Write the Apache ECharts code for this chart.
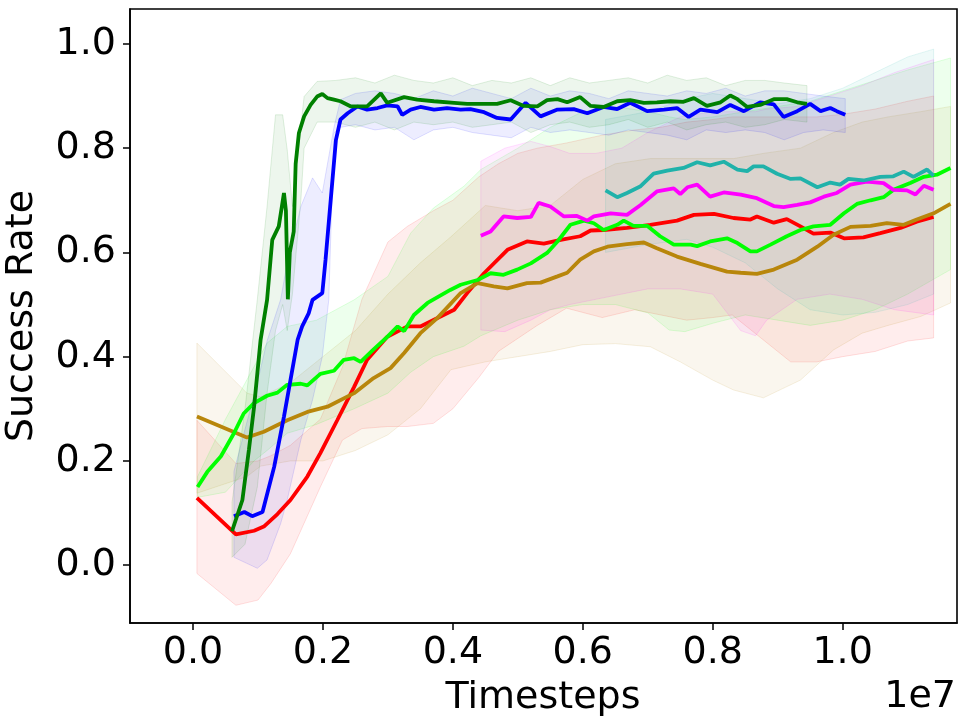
<!DOCTYPE html>
<html>
<head>
<meta charset="utf-8">
<title>Success Rate</title>
<script src="https://cdn.jsdelivr.net/npm/echarts@6.0.0/dist/echarts.min.js"></script>
<style>
  html, body { margin: 0; padding: 0; background: #fff; }
  #chart { width: 970px; height: 727px; }
</style>
</head>
<body>
<div id="chart"></div>
<script>
// x values are timesteps in units of 1e7
var xTicks = [0, 0.2, 0.4, 0.6, 0.8, 1.0];
var yTicks = [0, 0.2, 0.4, 0.6, 0.8, 1.0];

// ---- mean curves ----
var redSteps = [0.006,0.066,0.094,0.109,0.130,0.150,0.176,0.196,0.222,0.248,0.268,0.299,0.330,0.350,0.381,0.402,0.422,0.448,0.484,0.514,0.540,0.566,0.596,0.612,0.632,0.668,0.704,0.745,0.771,0.802,0.832,0.858,0.868,0.894,0.914,0.935,0.955,0.981,1.002,1.032,1.058,1.089,1.114,1.140];
var redMean = [0.129,0.059,0.066,0.074,0.098,0.125,0.170,0.215,0.278,0.342,0.394,0.438,0.458,0.458,0.477,0.490,0.522,0.560,0.605,0.621,0.617,0.624,0.631,0.642,0.643,0.647,0.653,0.661,0.672,0.674,0.666,0.663,0.669,0.657,0.664,0.650,0.636,0.638,0.627,0.629,0.637,0.647,0.659,0.668];

var brownSteps = [0.006,0.083,0.109,0.145,0.176,0.207,0.248,0.278,0.304,0.325,0.350,0.376,0.412,0.438,0.463,0.484,0.514,0.535,0.561,0.576,0.596,0.617,0.638,0.668,0.694,0.714,0.745,0.781,0.822,0.843,0.868,0.894,0.930,0.961,0.986,1.012,1.043,1.068,1.094,1.114,1.140,1.166];
var brownMean = [0.285,0.245,0.256,0.278,0.294,0.304,0.330,0.359,0.378,0.407,0.445,0.474,0.522,0.541,0.535,0.531,0.541,0.542,0.554,0.561,0.586,0.602,0.611,0.616,0.619,0.608,0.592,0.578,0.563,0.561,0.559,0.567,0.586,0.611,0.634,0.649,0.651,0.656,0.653,0.663,0.675,0.693];

var limeSteps = [0.007,0.022,0.043,0.063,0.078,0.094,0.114,0.130,0.145,0.166,0.176,0.196,0.217,0.232,0.248,0.258,0.278,0.299,0.315,0.325,0.340,0.361,0.396,0.412,0.438,0.458,0.478,0.499,0.520,0.545,0.561,0.581,0.602,0.617,0.632,0.653,0.663,0.678,0.699,0.719,0.740,0.766,0.776,0.796,0.822,0.838,0.858,0.868,0.889,0.914,0.935,0.955,0.981,1.002,1.022,1.043,1.063,1.078,1.104,1.125,1.145,1.166];
var limeMean = [0.150,0.179,0.209,0.253,0.291,0.311,0.325,0.331,0.346,0.348,0.345,0.367,0.373,0.394,0.397,0.390,0.414,0.438,0.458,0.449,0.480,0.503,0.528,0.538,0.547,0.560,0.557,0.567,0.579,0.599,0.621,0.653,0.661,0.656,0.643,0.653,0.661,0.651,0.651,0.631,0.615,0.615,0.612,0.621,0.627,0.618,0.602,0.602,0.615,0.631,0.643,0.650,0.653,0.675,0.693,0.700,0.706,0.720,0.733,0.745,0.749,0.762];

var magentaSteps = [0.443,0.458,0.478,0.499,0.520,0.532,0.550,0.571,0.591,0.607,0.617,0.643,0.668,0.689,0.714,0.740,0.750,0.761,0.776,0.796,0.817,0.843,0.868,0.894,0.909,0.930,0.950,0.971,0.991,1.012,1.037,1.063,1.078,1.099,1.112,1.125,1.140];
var magentaMean = [0.632,0.640,0.669,0.666,0.668,0.695,0.688,0.669,0.670,0.661,0.669,0.675,0.672,0.691,0.717,0.723,0.712,0.725,0.730,0.707,0.715,0.711,0.704,0.689,0.687,0.691,0.696,0.707,0.714,0.730,0.736,0.733,0.720,0.719,0.711,0.728,0.720];

var tealSteps = [0.635,0.653,0.668,0.689,0.709,0.730,0.755,0.776,0.796,0.817,0.838,0.853,0.863,0.878,0.899,0.920,0.935,0.961,0.981,0.996,1.009,1.032,1.058,1.078,1.094,1.109,1.130,1.140];
var tealMean = [0.719,0.706,0.714,0.727,0.751,0.757,0.762,0.773,0.767,0.774,0.759,0.756,0.765,0.765,0.751,0.741,0.742,0.725,0.734,0.730,0.741,0.738,0.745,0.746,0.755,0.745,0.759,0.747];

var blueSteps = [0.063,0.079,0.091,0.107,0.125,0.140,0.150,0.161,0.168,0.178,0.184,0.199,0.204,0.212,0.220,0.227,0.238,0.253,0.268,0.284,0.299,0.315,0.322,0.335,0.350,0.371,0.391,0.412,0.427,0.448,0.468,0.489,0.512,0.535,0.561,0.586,0.607,0.632,0.653,0.673,0.699,0.725,0.745,0.763,0.781,0.807,0.827,0.848,0.873,0.894,0.909,0.930,0.950,0.966,0.981,0.991,1.004];
var blueMean = [0.094,0.102,0.094,0.102,0.189,0.285,0.355,0.432,0.458,0.483,0.509,0.522,0.586,0.701,0.816,0.855,0.867,0.880,0.874,0.877,0.882,0.880,0.864,0.874,0.879,0.874,0.877,0.874,0.875,0.869,0.858,0.855,0.887,0.861,0.874,0.875,0.867,0.879,0.875,0.887,0.871,0.874,0.877,0.860,0.874,0.869,0.883,0.871,0.888,0.884,0.860,0.871,0.885,0.871,0.877,0.871,0.864];

var greenSteps = [0.060,0.076,0.086,0.094,0.104,0.114,0.122,0.132,0.140,0.143,0.146,0.149,0.152,0.155,0.158,0.163,0.171,0.181,0.191,0.199,0.207,0.217,0.227,0.243,0.268,0.289,0.299,0.325,0.345,0.371,0.402,0.422,0.448,0.468,0.489,0.509,0.530,0.545,0.561,0.576,0.596,0.612,0.632,0.653,0.673,0.694,0.714,0.735,0.755,0.771,0.791,0.812,0.827,0.838,0.853,0.873,0.894,0.914,0.930,0.945];
var greenMean = [0.065,0.125,0.221,0.304,0.432,0.509,0.624,0.650,0.714,0.680,0.510,0.600,0.620,0.640,0.770,0.829,0.861,0.883,0.899,0.904,0.896,0.893,0.890,0.880,0.880,0.905,0.887,0.898,0.893,0.890,0.887,0.885,0.885,0.885,0.892,0.881,0.880,0.892,0.894,0.888,0.898,0.881,0.879,0.890,0.892,0.887,0.888,0.890,0.889,0.896,0.881,0.888,0.901,0.894,0.879,0.883,0.894,0.894,0.888,0.885];

// ---- shaded spread bands ----
var redBandSteps = [0.006,0.066,0.10,0.12,0.15,0.196,0.23,0.26,0.30,0.33,0.37,0.40,0.44,0.47,0.50,0.53,0.575,0.63,0.68,0.72,0.76,0.80,0.83,0.88,0.92,0.96,1.0,1.05,1.10,1.14];
var redBandHigh = [0.278,0.195,0.20,0.21,0.23,0.28,0.38,0.51,0.62,0.65,0.68,0.70,0.745,0.77,0.79,0.80,0.81,0.825,0.835,0.84,0.85,0.855,0.86,0.86,0.86,0.86,0.865,0.875,0.89,0.90];
var redBandLow = [-0.016,-0.077,-0.067,-0.035,0.022,0.150,0.24,0.262,0.266,0.266,0.272,0.30,0.36,0.41,0.435,0.46,0.493,0.475,0.49,0.48,0.47,0.475,0.48,0.43,0.39,0.39,0.40,0.41,0.43,0.436];

var brownBandSteps = [0.006,0.083,0.104,0.15,0.2,0.25,0.30,0.35,0.397,0.45,0.5,0.55,0.6,0.65,0.704,0.75,0.80,0.832,0.878,0.935,0.986,1.03,1.07,1.12,1.166];
var brownBandHigh = [0.426,0.33,0.323,0.35,0.40,0.45,0.52,0.58,0.63,0.69,0.68,0.69,0.74,0.77,0.78,0.78,0.78,0.78,0.79,0.80,0.83,0.85,0.86,0.87,0.88];
var brownBandLow = [0.138,0.17,0.19,0.20,0.20,0.22,0.25,0.30,0.375,0.39,0.40,0.41,0.423,0.425,0.419,0.39,0.355,0.336,0.321,0.355,0.413,0.445,0.46,0.477,0.503];

var limeBandSteps = [0.007,0.05,0.094,0.114,0.145,0.19,0.248,0.30,0.335,0.37,0.417,0.443,0.50,0.55,0.60,0.65,0.70,0.733,0.757,0.80,0.85,0.90,0.95,1.00,1.05,1.10,1.166];
var limeBandHigh = [0.17,0.28,0.381,0.426,0.458,0.47,0.509,0.554,0.637,0.685,0.727,0.759,0.80,0.84,0.87,0.88,0.87,0.86,0.855,0.86,0.87,0.88,0.89,0.91,0.93,0.95,0.973];
var limeBandLow = [0.13,0.14,0.20,0.22,0.253,0.27,0.30,0.33,0.37,0.40,0.42,0.44,0.47,0.49,0.50,0.50,0.484,0.451,0.448,0.464,0.48,0.47,0.46,0.47,0.49,0.52,0.567];

var magentaBandSteps = [0.443,0.48,0.52,0.55,0.58,0.62,0.66,0.70,0.75,0.80,0.843,0.866,0.883,0.93,0.98,1.03,1.08,1.14];
var magentaBandHigh = [0.775,0.80,0.813,0.803,0.79,0.79,0.80,0.83,0.86,0.87,0.87,0.87,0.875,0.88,0.90,0.92,0.945,0.97];
var magentaBandLow = [0.451,0.448,0.47,0.49,0.50,0.51,0.52,0.53,0.53,0.52,0.45,0.44,0.47,0.51,0.52,0.51,0.49,0.48];

var tealBandSteps = [0.635,0.70,0.76,0.80,0.85,0.90,0.95,1.00,1.05,1.10,1.14];
var tealBandHigh = [0.855,0.87,0.895,0.905,0.895,0.885,0.895,0.915,0.945,0.975,0.99];
var tealBandLow = [0.60,0.615,0.625,0.61,0.58,0.53,0.49,0.48,0.485,0.50,0.52];

var blueBandSteps = [0.063,0.099,0.114,0.135,0.145,0.166,0.184,0.199,0.209,0.217,0.227,0.25,0.28,0.31,0.34,0.37,0.40,0.43,0.46,0.49,0.52,0.55,0.58,0.61,0.64,0.67,0.70,0.73,0.76,0.79,0.82,0.85,0.88,0.91,0.94,0.97,1.004];
var blueBandHigh = [0.18,0.35,0.43,0.51,0.58,0.688,0.743,0.714,0.784,0.84,0.893,0.905,0.91,0.905,0.895,0.91,0.90,0.915,0.905,0.895,0.915,0.90,0.91,0.905,0.895,0.91,0.905,0.90,0.91,0.905,0.915,0.90,0.91,0.91,0.905,0.90,0.895];
var blueBandLow = [0.015,-0.006,0.01,0.08,0.125,0.24,0.317,0.40,0.509,0.829,0.84,0.845,0.835,0.84,0.816,0.835,0.84,0.83,0.825,0.82,0.84,0.83,0.835,0.83,0.825,0.835,0.83,0.825,0.816,0.835,0.83,0.835,0.83,0.816,0.83,0.835,0.83];

var greenBandSteps = [0.060,0.080,0.099,0.114,0.127,0.138,0.145,0.153,0.166,0.171,0.191,0.22,0.25,0.28,0.31,0.34,0.37,0.40,0.43,0.46,0.49,0.52,0.55,0.58,0.61,0.64,0.67,0.70,0.73,0.76,0.79,0.82,0.85,0.88,0.91,0.945];
var greenBandHigh = [0.12,0.30,0.51,0.688,0.864,0.864,0.797,0.688,0.842,0.899,0.928,0.93,0.935,0.925,0.94,0.93,0.925,0.935,0.92,0.93,0.925,0.935,0.92,0.935,0.925,0.93,0.935,0.925,0.94,0.93,0.935,0.92,0.93,0.93,0.925,0.92];
var greenBandLow = [0.015,0.04,0.15,0.33,0.45,0.50,0.45,0.52,0.70,0.80,0.85,0.85,0.84,0.85,0.835,0.85,0.845,0.85,0.84,0.845,0.85,0.83,0.845,0.85,0.84,0.845,0.855,0.84,0.85,0.835,0.845,0.85,0.84,0.845,0.855,0.85];

var runs = [
    { name: 'red', color: [255, 0, 0], steps: redSteps, mean: redMean, bSteps: redBandSteps, lo: redBandLow, hi: redBandHigh },
    { name: 'brown', color: [184, 134, 11], steps: brownSteps, mean: brownMean, bSteps: brownBandSteps, lo: brownBandLow, hi: brownBandHigh },
    { name: 'lime', color: [0, 255, 0], steps: limeSteps, mean: limeMean, bSteps: limeBandSteps, lo: limeBandLow, hi: limeBandHigh },
    { name: 'magenta', color: [255, 0, 255], steps: magentaSteps, mean: magentaMean, bSteps: magentaBandSteps, lo: magentaBandLow, hi: magentaBandHigh },
    { name: 'teal', color: [32, 178, 170], steps: tealSteps, mean: tealMean, bSteps: tealBandSteps, lo: tealBandLow, hi: tealBandHigh },
    { name: 'blue', color: [0, 0, 255], steps: blueSteps, mean: blueMean, bSteps: blueBandSteps, lo: blueBandLow, hi: blueBandHigh },
    { name: 'green', color: [0, 128, 0], steps: greenSteps, mean: greenMean, bSteps: greenBandSteps, lo: greenBandLow, hi: greenBandHigh }
];

function rgba(c, a) {
    return 'rgba(' + c[0] + ',' + c[1] + ',' + c[2] + ',' + a + ')';
}

function zip(xs, ys) {
    var out = [];
    for (var i = 0; i < xs.length; i++) out.push([xs[i], ys[i]]);
    return out;
}

var FONT = 'DejaVu Sans';
var FSIZE = 38;
var series = [];

// bands first (drawn underneath)
runs.forEach(function (run) {
    var pts = [];
    for (var i = 0; i < run.bSteps.length; i++) pts.push([run.bSteps[i], run.lo[i], run.hi[i]]);
    series.push({
        type: 'custom',
        name: run.name + ' band',
        silent: true,
        clip: true,
        z: 1,
        encode: { x: 0, y: [1, 2] },
        data: pts,
        renderItem: function (params, api) {
            if (params.dataIndex !== 0) return null;
            var poly = [];
            for (var i = 0; i < pts.length; i++) poly.push(api.coord([pts[i][0], pts[i][2]]));
            for (var j = pts.length - 1; j >= 0; j--) poly.push(api.coord([pts[j][0], pts[j][1]]));
            return {
                type: 'polygon',
                shape: { points: poly },
                style: { fill: rgba(run.color, 0.07), stroke: rgba(run.color, 0.12), lineWidth: 1 }
            };
        }
    });
});

runs.forEach(function (run) {
    series.push({
        type: 'line',
        name: run.name,
        z: 5,
        data: zip(run.steps, run.mean),
        showSymbol: false,
        symbol: 'none',
        animation: false,
        lineStyle: { color: rgba(run.color, 1), width: 3.8 },
        itemStyle: { color: rgba(run.color, 1) }
    });
});

var chart = echarts.init(document.getElementById('chart'), null, { renderer: 'canvas' });
chart.setOption({
    animation: false,
    backgroundColor: '#fff',
    grid: {
        left: 130, top: 9, width: 827, height: 614,
        show: true, borderColor: '#000', borderWidth: 1.6,
        containLabel: false, outerBoundsMode: 'none'
    },
    xAxis: {
        type: 'value',
        min: -0.097,
        max: 1.176,
        splitLine: { show: false },
        axisLine: { show: true, onZero: false, lineStyle: { color: '#000', width: 1.6 } },
        axisTick: { show: true, length: 7, lineStyle: { color: '#000', width: 1.5 }, customValues: xTicks },
        axisLabel: {
            customValues: xTicks, margin: 11, color: '#000',
            fontFamily: FONT, fontSize: FSIZE,
            formatter: function (v) { return v.toFixed(1); }
        }
    },
    yAxis: {
        type: 'value',
        min: -0.111,
        max: 1.067,
        splitLine: { show: false },
        axisLine: { show: true, onZero: false, lineStyle: { color: '#000', width: 1.6 } },
        axisTick: { show: true, length: 7, lineStyle: { color: '#000', width: 1.5 }, customValues: yTicks },
        axisLabel: {
            customValues: yTicks, margin: 14, color: '#000',
            fontFamily: FONT, fontSize: FSIZE,
            formatter: function (v) { return v.toFixed(1); }
        }
    },
    graphic: [
        {
            type: 'text', x: 543, y: 698, silent: true,
            style: { text: 'Timesteps', fill: '#000', font: FSIZE + 'px "' + FONT + '"', align: 'center', verticalAlign: 'middle' }
        },
        {
            type: 'text', x: 956, y: 697, silent: true,
            style: { text: '1e7', fill: '#000', font: FSIZE + 'px "' + FONT + '"', align: 'right', verticalAlign: 'middle' }
        },
        {
            type: 'text', x: 22, y: 316, rotation: Math.PI / 2, silent: true,
            style: { text: 'Success Rate', fill: '#000', font: FSIZE + 'px "' + FONT + '"', align: 'center', verticalAlign: 'middle' }
        }
    ],
    series: series
});
</script>
</body>
</html>
